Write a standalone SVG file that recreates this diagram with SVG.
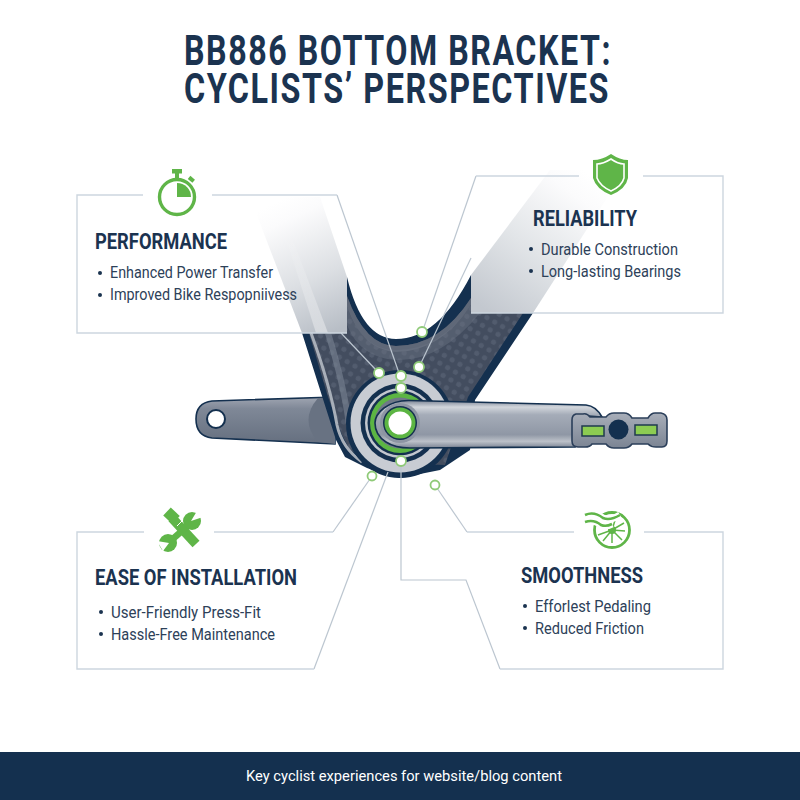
<svg xmlns="http://www.w3.org/2000/svg" width="800" height="800" viewBox="0 0 800 800">
<style>
.title{font-family:"Roboto","Liberation Sans",sans-serif;font-weight:700;font-size:42px;letter-spacing:2px;fill:#1b3350}
.head{font-family:"Roboto","Liberation Sans",sans-serif;font-weight:700;font-size:22px;fill:#1b3350}
.body{font-family:"Roboto","Liberation Sans",sans-serif;font-size:16.5px;fill:#2d4159}
.foot{font-family:"Roboto","Liberation Sans",sans-serif;font-size:15.5px;fill:#fff}
.edge{fill:none;stroke:#cdd6df;stroke-width:1.4}
.link{fill:none;stroke:#bcc6d0;stroke-width:1.2}
.dot{fill:#fff;stroke:#8fca78;stroke-width:1.8}
.ic{fill:#5fb548}
.ics{fill:none;stroke:#5fb548}
.bul{fill:#1b3350}
</style>
<defs>
<pattern id="carbon" width="9" height="9" patternUnits="userSpaceOnUse" patternTransform="rotate(30)">
<rect width="9" height="9" fill="#434d5f"/><circle cx="4.5" cy="4.5" r="2.6" fill="#525c6e"/>
</pattern>
<linearGradient id="fadeL" gradientUnits="userSpaceOnUse" x1="330" y1="333" x2="270" y2="205"><stop offset="0" stop-color="#b8bec6"/><stop offset="0.4" stop-color="#dcdfe3"/><stop offset="0.85" stop-color="#fbfbfc"/><stop offset="1" stop-color="#fff"/></linearGradient>
<linearGradient id="fadeR" gradientUnits="userSpaceOnUse" x1="490" y1="313" x2="590" y2="175"><stop offset="0" stop-color="#c3c8cf"/><stop offset="0.45" stop-color="#e2e5e8"/><stop offset="0.85" stop-color="#fbfbfc"/><stop offset="1" stop-color="#fff"/></linearGradient>
<linearGradient id="fadeW" gradientUnits="userSpaceOnUse" x1="330" y1="333" x2="285" y2="235"><stop offset="0" stop-color="#fff" stop-opacity=".4"/><stop offset="1" stop-color="#fff" stop-opacity="0"/></linearGradient>
<linearGradient id="arm" x1="0" y1="0" x2="0" y2="1"><stop offset="0" stop-color="#a0a6b2"/><stop offset="0.25" stop-color="#7f8897"/><stop offset="1" stop-color="#656f7f"/></linearGradient>
<linearGradient id="crank" x1="0" y1="0" x2="0" y2="1"><stop offset="0" stop-color="#7d8696"/><stop offset="0.14" stop-color="#d2d6dc"/><stop offset="0.3" stop-color="#a5acb8"/><stop offset="0.72" stop-color="#8f97a5"/><stop offset="0.86" stop-color="#bcc1c9"/><stop offset="1" stop-color="#7a8393"/></linearGradient>
<linearGradient id="ped" x1="0" y1="0" x2="0" y2="1"><stop offset="0" stop-color="#a8aeb9"/><stop offset="1" stop-color="#7b8493"/></linearGradient>
<clipPath id="frameClip"><path d="M302,333 L347,333 L347,277 Q362,339 396,339 Q438,339 471,275 L471,313 L533,313 L475,400 L470,450 L440,470 L400,478 L387,475 L367,468 L345,457 L336,440 Z"/></clipPath>
</defs>
<rect width="800" height="800" fill="#fff"/>

<g id="title">
<text class="title" x="398" y="65" text-anchor="middle" textLength="428" lengthAdjust="spacingAndGlyphs">BB886 BOTTOM BRACKET:</text>
<text class="title" x="397" y="103" text-anchor="middle" textLength="426" lengthAdjust="spacingAndGlyphs">CYCLISTS’ PERSPECTIVES</text>
</g>

<g id="bike">
<polygon points="250,197 320,197 347,277 347,333 302,333" fill="url(#fadeL)"/>
<polygon points="285,235 291,235 328,333 316,333" fill="url(#fadeW)"/>
<polygon points="471,275 550,170 625,170 533,313 471,313" fill="url(#fadeR)"/>

<path d="M212,401 L335,397 L335,444 L212,438 Q196,436 196,419 Q196,403 212,401Z" fill="url(#arm)" stroke="#14304f" stroke-width="1.6"/>
<path d="M318,398 Q299,420 318,442 L335,444 L335,397Z" fill="#687282"/>
<circle cx="216" cy="419" r="9" fill="#fff" stroke="#14304f" stroke-width="2"/>

<g clip-path="url(#frameClip)">
<rect x="290" y="260" width="260" height="230" fill="#14304f"/>
<path d="M309,333 L347,333 L347,296 Q365,346 396,346 Q440,346 471,298 L471,313 L523,313 L468,397 L445,465 L370,462 L350,450 L342,435 L328,397 Z" fill="url(#carbon)"/>
<path d="M347,296 Q365,346 396,346 Q440,346 471,298 L471,305 Q440,352 396,352 Q362,350 347,307Z" fill="#5f6878"/>
<path d="M347,307 Q362,350 396,350 Q440,350 471,305 L471,312 L480,313 Q440,362 396,360 Q360,358 347,325Z" fill="#6a7382" opacity=".45"/>
<path d="M311,333 Q330,385 337,425 Q342,448 362,462" fill="none" stroke="#a8afb9" stroke-width="3"/>
<path d="M328,333 Q344,385 349,425 Q352,440 362,450" fill="none" stroke="#7c8595" stroke-width="6" opacity=".6"/>
</g>

<circle cx="400" cy="424" r="54" fill="#14304f"/>
<circle cx="400" cy="423" r="49.5" fill="#c8ccd3"/>
<circle cx="400" cy="423" r="39.5" fill="#14304f"/>
<circle cx="400" cy="423" r="35" fill="#c3c7cf"/>
<circle cx="400" cy="423" r="32.5" fill="#14304f"/>
<circle cx="400" cy="423" r="30" fill="#5cb543"/>
<circle cx="400" cy="423" r="25.5" fill="#6f7888"/>

<path d="M410,400.5 Q395,400 384,408 Q375,415 375,423 Q375,435 386,442 Q395,448 410,448 L575,447 L575,415 L602,417 Q596,406 586,405 Z" fill="url(#crank)" stroke="#14304f" stroke-width="1.6"/>
<circle cx="400" cy="423" r="20" fill="#8d95a3"/>
<circle cx="400" cy="423" r="17" fill="#14304f"/>
<circle cx="400" cy="423" r="15.5" fill="#5cb543"/>
<circle cx="400" cy="423" r="11.5" fill="#fff"/>

<path d="M576,414 Q572,415 572,420 L572,441 Q572,447 578,447 L585,447 Q590,447 592,444 L606,444 Q609,448 614,448 L624,448 Q629,448 632,444 L648,444 Q651,447 656,447 L662,447 Q667,447 667,441 L667,420 Q667,414 661,413 L655,413 Q651,413 648,418 L632,418 Q629,413 624,413 L614,413 Q609,413 606,417 L590,417 Q587,413 583,414Z" fill="url(#ped)" stroke="#2b3f5a" stroke-width="1.6"/>
<rect x="582" y="426" width="22" height="10" fill="#8ccc52" stroke="#1f3a4f" stroke-width="1.5"/>
<rect x="635" y="425" width="22" height="10" fill="#8ccc52" stroke="#1f3a4f" stroke-width="1.5"/>
<circle cx="618.500" cy="429.500" r="10" fill="#14304f"/>
</g>

<g id="connectors">
<path class="link" d="M337,195 L399,373"/>
<path class="link" d="M341,333 L377,371"/>
<path class="link" d="M476,176 L424,327"/>
<path class="link" d="M471,258 L421,363"/>
<path class="link" d="M333,532 L370,479"/>
<path class="link" d="M314,669 L388,472"/>
<path class="link" d="M401,466 L401,580 L466,580 L500,669"/>
<path class="link" d="M467,532 L437,488"/>
</g>

<g id="performance">
<path class="edge" d="M143,195 L77,195 L77,333 L347,333"/>
<path class="edge" d="M212,195 L337,195"/>
<g id="icon-stopwatch">
<circle cx="177" cy="197" r="17.5" class="ics" stroke-width="3.4"/>
<path class="ic" d="M177,183 A14,14 0 0 1 191,197 L177,197Z"/>
<rect class="ic" x="172" y="169" width="10" height="4.500"/><rect class="ic" x="175" y="172" width="4" height="7"/>
<rect class="ic" x="188.500" y="177" width="6" height="4" transform="rotate(40 191 179)"/>
</g>
<text class="head" x="95" y="249" textLength="132" lengthAdjust="spacingAndGlyphs">PERFORMANCE</text>
<circle class="bul" cx="100" cy="273" r="2"/>
<circle class="bul" cx="100" cy="295" r="2"/>
<text class="body" x="110" y="278" textLength="163" lengthAdjust="spacingAndGlyphs">Enhanced Power Transfer</text>
<text class="body" x="110" y="300" textLength="187" lengthAdjust="spacingAndGlyphs">Improved Bike Respopniivess</text>
</g>

<g id="reliability">
<path class="edge" d="M476,176 L579,176"/>
<path class="edge" d="M643,176 L723,176 L723,313 L471,313"/>
<path class="ic" d="M611,154 Q620,160 628,160 L628,178 Q626,189 611,195 Q596,189 593,178 L593,160 Q602,160 611,154Z"/>
<path d="M611,159 Q618,164 624,164 L624,178 Q622,186 611,191 Q600,186 597,178 L597,164 Q603,164 611,159Z" fill="none" stroke="#fff" stroke-width="1.600"/>
<text class="head" x="533" y="226" textLength="104" lengthAdjust="spacingAndGlyphs">RELIABILITY</text>
<circle class="bul" cx="531" cy="249" r="2"/>
<circle class="bul" cx="531" cy="271" r="2"/>
<text class="body" x="541" y="255" textLength="137" lengthAdjust="spacingAndGlyphs">Durable Construction</text>
<text class="body" x="541" y="277" textLength="140" lengthAdjust="spacingAndGlyphs">Long-lasting Bearings</text>
</g>

<g id="installation">
<path class="edge" d="M144,532 L77,532 L77,669 L314,669"/>
<path class="edge" d="M214,532 L333,532"/>
<g id="icon-tools">
<path class="ics" d="M172,518 L196,544" stroke-width="9.500"/>
<path class="ics" d="M167,511.500 L176,520" stroke-width="11"/>
<path d="M177,526 L183,520" stroke="#fff" stroke-width="1"/>
<path class="ics" d="M191,523 L167,544" stroke-width="6.500"/>
<circle class="ic" cx="192" cy="521" r="9"/><circle class="ic" cx="168" cy="543" r="9"/>
<path d="M191,521 L197,511 L203,517Z M169,543 L157,541 L163,551Z" fill="#fff"/>
</g>
<text class="head" x="95" y="585" textLength="202" lengthAdjust="spacingAndGlyphs">EASE OF INSTALLATION</text>
<circle class="bul" cx="101" cy="612" r="2"/>
<circle class="bul" cx="101" cy="634" r="2"/>
<text class="body" x="111" y="618" textLength="150" lengthAdjust="spacingAndGlyphs">User-Friendly Press-Fit</text>
<text class="body" x="111" y="640" textLength="164" lengthAdjust="spacingAndGlyphs">Hassle-Free Maintenance</text>
</g>

<g id="smoothness">
<path class="edge" d="M467,532 L574,532"/>
<path class="edge" d="M644,532 L723,532 L723,669 L500,669"/>
<g id="icon-wheel">
<circle cx="612" cy="530" r="17.500" class="ics" stroke-width="2.800"/>
<circle class="ic" cx="612" cy="530" r="4"/>
<path class="ics" stroke-width="1.500" d="M612,530 L616,517 M612,530 L624,523 M612,530 L625,531 M612,530 L622,540 M612,530 L612,543 M612,530 L603,541 M612,530 L598,535"/>
<path d="M585,515 Q594,511 603,518 Q610,521 620,515 M585,522 Q594,519 601,525 Q606,527 612,524" fill="none" stroke="#fff" stroke-width="7"/>
<path class="ics" stroke-width="2.600" d="M585,515 Q594,511 603,518 Q610,521 620,515 M585,522 Q594,519 601,525 Q606,527 612,524"/>
</g>
<text class="head" x="521" y="583" textLength="122" lengthAdjust="spacingAndGlyphs">SMOOTHNESS</text>
<circle class="bul" cx="525" cy="606" r="2"/>
<circle class="bul" cx="525" cy="628" r="2"/>
<text class="body" x="535" y="612" textLength="116" lengthAdjust="spacingAndGlyphs">Efforlest Pedaling</text>
<text class="body" x="535" y="634" textLength="109" lengthAdjust="spacingAndGlyphs">Reduced Friction</text>
</g>

<g id="markers">
<circle class="dot" cx="379" cy="373" r="5"/>
<circle class="dot" cx="401" cy="376" r="5"/>
<circle class="dot" cx="401" cy="388" r="5"/>
<circle class="dot" cx="419" cy="367" r="5"/>
<circle class="dot" cx="422" cy="332" r="5"/>
<circle class="dot" cx="401" cy="461" r="5"/>
<circle class="dot" cx="372" cy="476" r="4.500"/>
<circle class="dot" cx="435" cy="485" r="4.500"/>
</g>

<g id="footer">
<rect x="0" y="752" width="800" height="48" fill="#14304f"/>
<text class="foot" x="404" y="781" text-anchor="middle" textLength="316" lengthAdjust="spacingAndGlyphs">Key cyclist experiences for website/blog content</text>
</g>
</svg>
